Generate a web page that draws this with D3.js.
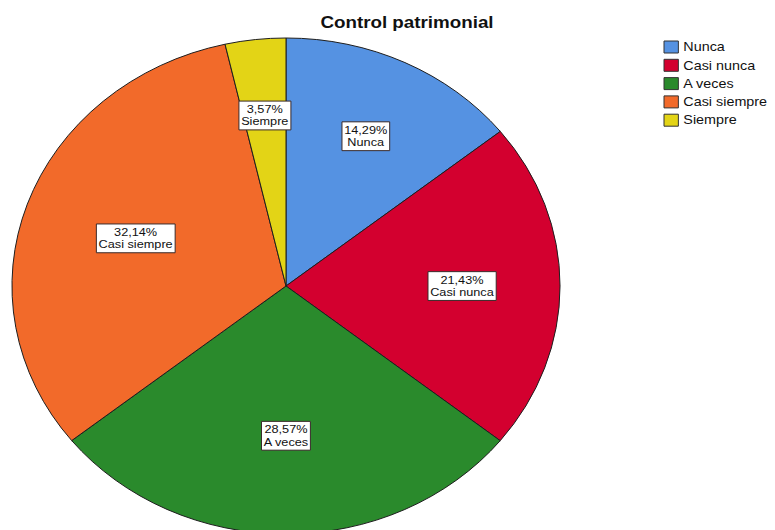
<!DOCTYPE html>
<html><head><meta charset="utf-8">
<script src="https://cdn.jsdelivr.net/npm/d3@7"></script>
<style>body{margin:0;background:#fff} svg{display:block}</style>
</head><body>
<script>
// Chart content
const chartTitle = "Control patrimonial";
const categories = ["Nunca", "Casi nunca", "A veces", "Casi siempre", "Siempre"];
const percents = [14.29, 21.43, 28.57, 32.14, 3.57];
const colors = ["#5592E2", "#D3002F", "#2A8A2C", "#F26A2A", "#E3D416"];

const W = 775, H = 530;
const SX = 1.105;               // horizontal stretch of the whole chart
const FONT = "'Liberation Sans', Arial, Helvetica, sans-serif";

const svg = d3.select("body").append("svg").attr("width", W).attr("height", H);
const g = svg.append("g").attr("transform", `scale(${SX},1)`);

// Pie
const cx = 286 / SX, cy = 286, R = 248;
const data = categories.map((c, i) => ({ c, v: percents[i], color: colors[i] }));
const arcs = d3.pie().sort(null).value(d => d.v)(data);
const arc = d3.arc().innerRadius(0).outerRadius(R);

const pg = g.append("g").attr("transform", `translate(${cx},${cy})`);
pg.selectAll("path.slice").data(arcs).join("path")
  .attr("class", "slice")
  .attr("d", arc)
  .attr("fill", d => d.data.color)
  .attr("stroke", "#1e1e1e")
  .attr("stroke-width", 1)
  .attr("vector-effect", "non-scaling-stroke");

// Slice labels, placed near the centroid of each sector
const fmt = v => d3.format(".2f")(v).replace(".", ",") + "%";
const lineGap = 12.4;
const lg = pg.selectAll("g.lab").data(arcs).join("g").attr("class", "lab")
  .attr("transform", d => {
    const half = (d.endAngle - d.startAngle) / 2;
    const mid = (d.startAngle + d.endAngle) / 2;
    const dist = 1.04 * (2 * R * Math.sin(half)) / (3 * half);
    return `translate(${dist * Math.sin(mid)},${-dist * Math.cos(mid)})`;
  });
lg.each(function(d) {
  const sel = d3.select(this);
  const rect = sel.append("rect");
  const t = sel.append("text")
    .attr("text-anchor", "middle")
    .attr("font-family", FONT)
    .attr("font-size", 11.5)
    .attr("fill", "#111");
  t.append("tspan").attr("x", 0).attr("y", -lineGap / 2).attr("dominant-baseline", "central").text(fmt(d.data.v));
  t.append("tspan").attr("x", 0).attr("y", lineGap / 2).attr("dominant-baseline", "central").text(d.data.c);
  const bb = t.node().getBBox();
  const padX = 2, padY = 1.5;
  rect.attr("x", bb.x - padX).attr("y", -lineGap - padY - 0.5)
    .attr("width", bb.width + 2 * padX)
    .attr("height", 2 * lineGap + 2 * padY + 1)
    .attr("fill", "#fff")
    .attr("stroke", "#3a2a2a")
    .attr("stroke-width", 1)
    .attr("vector-effect", "non-scaling-stroke");
});

// Title
g.append("text")
  .attr("x", 407 / SX).attr("y", 28)
  .attr("text-anchor", "middle")
  .attr("font-family", FONT)
  .attr("font-weight", "bold")
  .attr("font-size", 17)
  .attr("fill", "#111")
  .text(chartTitle);

// Legend
const legX = 664 / SX, legY = 47, legStep = 18.3, sw = 13, sh = 12;
const leg = g.append("g").selectAll("g").data(data).join("g")
  .attr("transform", (d, i) => `translate(${legX},${legY + i * legStep})`);
leg.append("rect")
  .attr("x", 0).attr("y", -sh / 2)
  .attr("width", sw).attr("height", sh)
  .attr("fill", d => d.color)
  .attr("stroke", "#333")
  .attr("stroke-width", 1)
  .attr("vector-effect", "non-scaling-stroke");
leg.append("text")
  .attr("x", sw + 4.5).attr("y", 0)
  .attr("dominant-baseline", "central")
  .attr("font-family", FONT)
  .attr("font-size", 13)
  .attr("fill", "#111")
  .text(d => d.c);
</script>
</body></html>
